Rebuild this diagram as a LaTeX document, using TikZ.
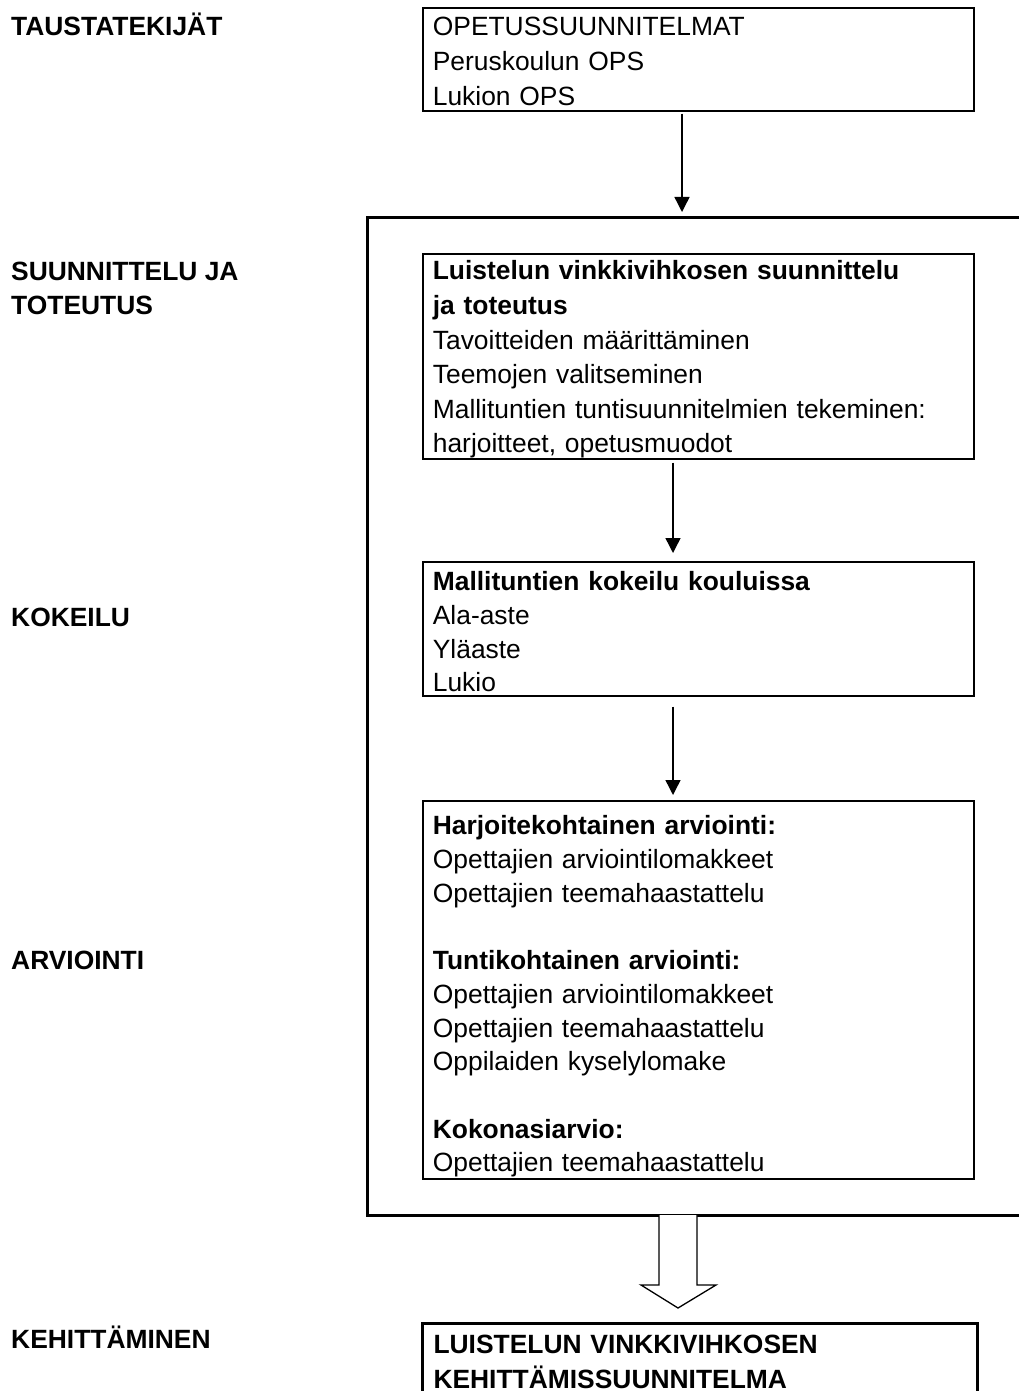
\documentclass[tikz,border=0pt]{standalone}
\usepackage{fontspec}
\setmainfont{Liberation Sans}
\usetikzlibrary{arrows.meta,positioning,calc}

\begin{document}
\begin{tikzpicture}[x=1pt,y=-1pt,
    box/.style={draw, line width=1.7pt, anchor=north west, inner xsep=10pt,
      inner ysep=0pt, text width=531pt, align=left,
      font=\fontsize{26.4}{33.7}\selectfont},
    stage/.style={anchor=base west, inner sep=0pt, align=left,
      font=\fontsize{26.4}{34}\selectfont\bfseries},
    arr/.style={line width=1.4pt, -{Triangle[width=15pt,length=15pt]}}]
    \useasboundingbox (0,0) rectangle (1018,1391);

    % Stage labels on the left
    \node[stage] (tausta) at (11,36) {TAUSTATEKIJÄT};
    \node[stage, anchor=north west] (suunn) at (11,262) {SUUNNITTELU JA\\TOTEUTUS};
    \node[stage] (kokeilu) at (11,626) {KOKEILU};
    \node[stage] (arvio) at (11,969) {ARVIOINTI};
    \node[stage] (kehit) at (11,1348) {KEHITTÄMINEN};

    % Curricula
    \node[box, text height=28pt, text depth=75pt,
      font=\fontsize{26.4}{35}\selectfont] (ops) at (422,7)
      {OPETUSSUUNNITELMAT\\Peruskoulun OPS\\Lukion OPS};

    % Frame round planning, trial and evaluation
    \draw[line width=3pt] (1030,217) -- (367,217) -- (367,1215) -- (1030,1215);
    \coordinate (frametop) at (682,212);

    \node[box, text height=26pt, text depth=179pt,
      font=\fontsize{26.4}{34.6}\selectfont] (plan) at (422,253)
      {\textbf{Luistelun vinkkivihkosen suunnittelu}\\
       \textbf{ja toteutus}\\
       Tavoitteiden määrittäminen\\
       Teemojen valitseminen\\
       Mallituntien tuntisuunnitelmien tekeminen:\\
       harjoitteet, opetusmuodot};

    \node[box, text height=29pt, text depth=105pt] (trial) at (422,561)
      {\textbf{Mallituntien kokeilu kouluissa}\\
       Ala-aste\\
       Yläaste\\
       Lukio};

    \node[box, text height=34pt, text depth=344pt] (eval) at (422,800)
      {\textbf{Harjoitekohtainen arviointi:}\\
       Opettajien arviointilomakkeet\\
       Opettajien teemahaastattelu\\[33.7pt]
       \textbf{Tuntikohtainen arviointi:}\\
       Opettajien arviointilomakkeet\\
       Opettajien teemahaastattelu\\
       Oppilaiden kyselylomake\\[33.7pt]
       \textbf{Kokonasiarvio:}\\
       Opettajien teemahaastattelu};

    % Development plan, cut at the page edge
    \node[box, line width=3pt, inner xsep=11pt, text width=533pt,
      text height=30pt, text depth=60pt,
      font=\fontsize{26.4}{35}\selectfont\bfseries] (devel) at (421,1322)
      {LUISTELUN VINKKIVIHKOSEN\\KEHITTÄMISSUUNNITELMA};

    % Connectors
    \coordinate (ax) at (673,0);
    \draw[arr] (ops.south -| frametop) ++(0,2) -- (frametop);
    \draw[arr, shorten <=3pt, shorten >=8pt] (plan.south -| ax) -- (trial.north -| ax);
    \draw[arr, shorten <=10pt, shorten >=5pt] (trial.south -| ax) -- (eval.north -| ax);

    % Hollow arrow to the development plan
    \draw[line width=1.3pt, fill=white] (659,1215) -- (659,1285) -- (641,1285)
      -- (678,1308) -- (716,1285) -- (697,1285) -- (697,1215);
\end{tikzpicture}
\end{document}
